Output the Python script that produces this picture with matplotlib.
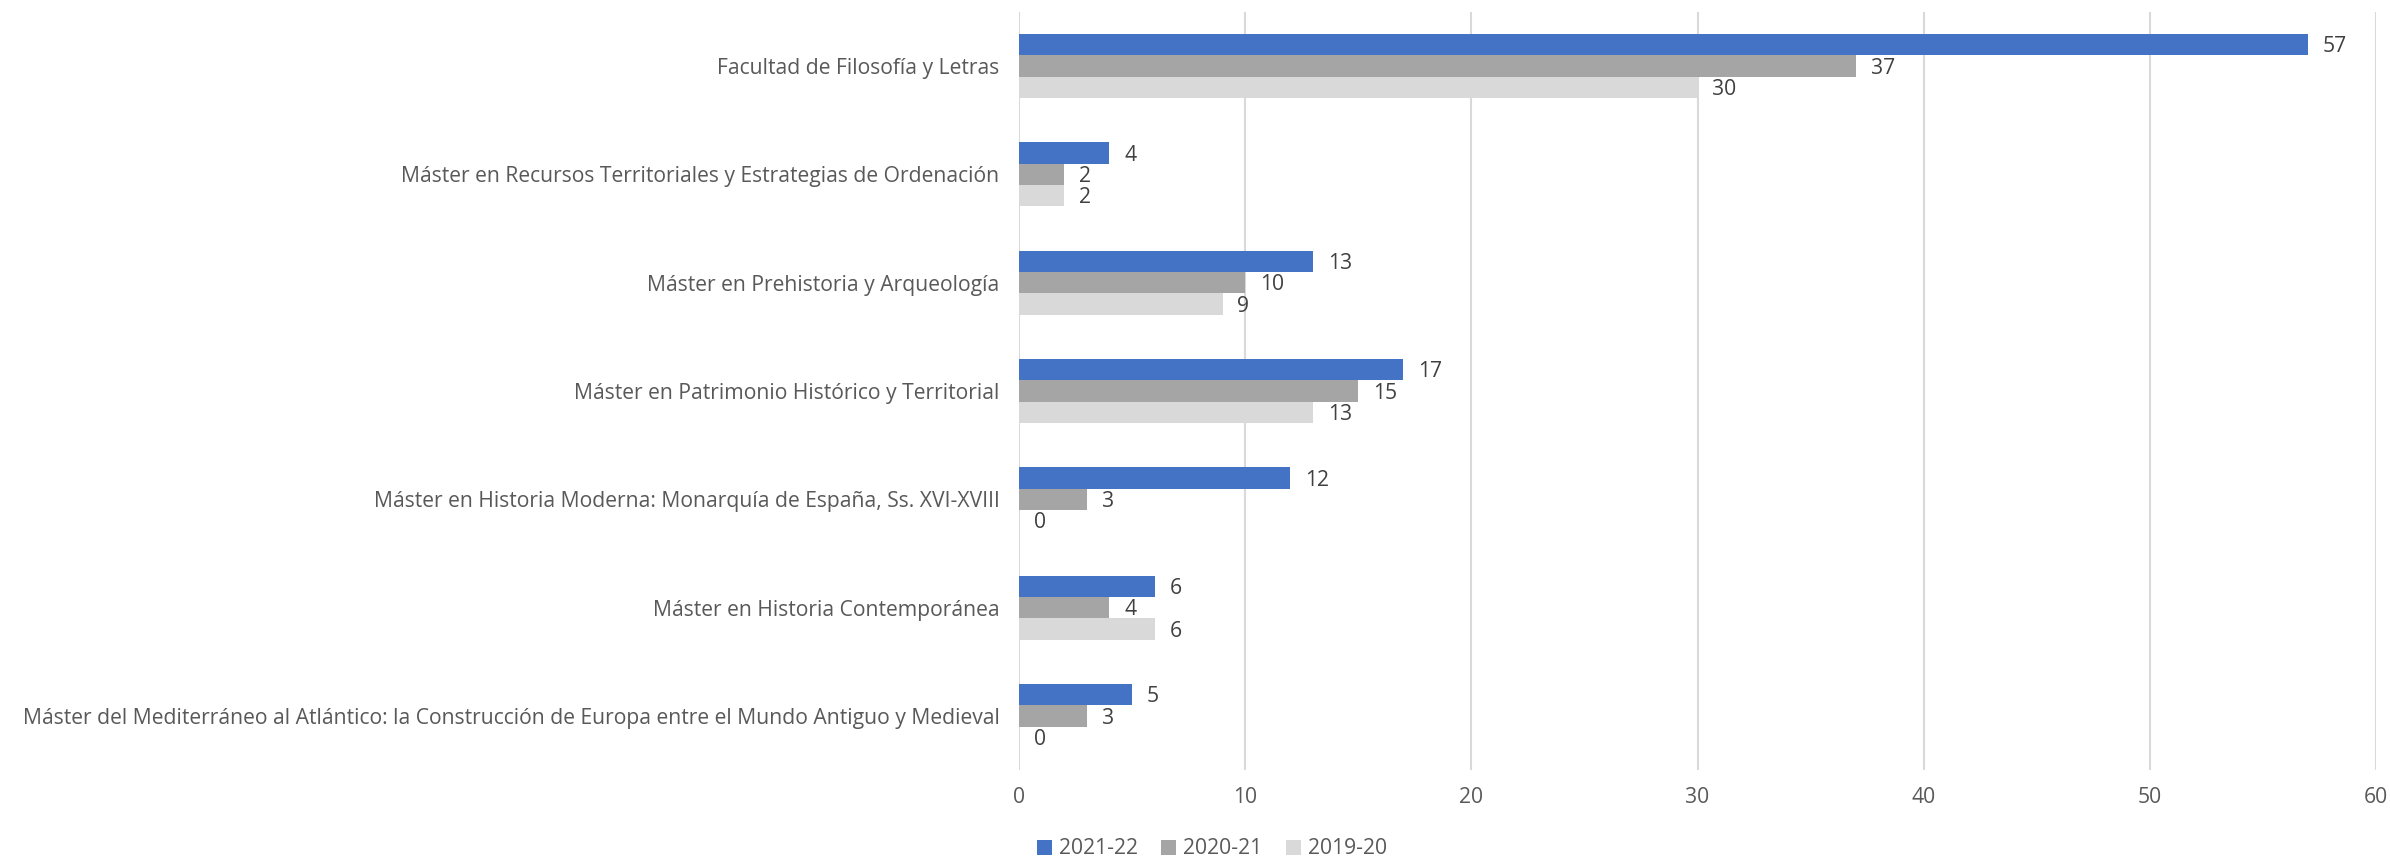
import matplotlib
matplotlib.use("Agg")
import matplotlib.pyplot as plt
import numpy as np

categories = [
    "Facultad de Filosofía y Letras",
    "Máster en Recursos Territoriales y Estrategias de Ordenación",
    "Máster en Prehistoria y Arqueología",
    "Máster en Patrimonio Histórico y Territorial",
    "Máster en Historia Moderna: Monarquía de España, Ss. XVI-XVIII",
    "Máster en Historia Contemporánea",
    "Máster del Mediterráneo al Atlántico: la Construcción de Europa entre el Mundo Antiguo y Medieval",
]
series_names = ["2021-22", "2020-21", "2019-20"]
v_2021_22 = [57, 4, 13, 17, 12, 6, 5]
v_2020_21 = [37, 2, 10, 15, 3, 4, 3]
v_2019_20 = [30, 2, 9, 13, 0, 6, 0]
x_ticks = [0, 10, 20, 30, 40, 50, 60]

colors = ["#4472C4", "#A5A5A5", "#D9D9D9"]
text_color = "#595959"
plt.rcParams['font.family'] = ['Open Sans', 'DejaVu Sans']
fs = 15.2

W, H = 2390, 858
fig = plt.figure(figsize=(W / 100, H / 100), dpi=100)
ax = fig.add_axes([1019 / W, 1 - 770 / H, (2376 - 1019) / W, (770 - 12) / H])

y = np.arange(len(categories))
bh = 0.197
all_vals = [v_2021_22, v_2020_21, v_2019_20]
for i, (vals, name, c) in enumerate(zip(all_vals, series_names, colors)):
    pos = y + (i - 1) * bh
    ax.barh(pos, vals, height=bh, color=c, label=name, zorder=2)
    for p, v in zip(pos, vals):
        ax.text(v + 0.65, p + 0.02, str(v), va='center', ha='left', fontsize=fs,
                color="#404040")

ax.set_ylim(len(categories) - 0.5, -0.5)
ax.set_xlim(0, 60)
ax.set_xticks(x_ticks)
ax.set_xticklabels([str(t) for t in x_ticks], fontsize=fs, color=text_color)
ax.set_yticks(y)
ax.set_yticklabels(categories, fontsize=fs, color=text_color)
ax.tick_params(axis='both', length=0)
ax.tick_params(axis='x', pad=12)
ax.tick_params(axis='y', pad=14)
for s in ax.spines.values():
    s.set_visible(False)
ax.grid(axis='x', color="#D9D9D9", linewidth=1.5, zorder=0)
ax.set_axisbelow(True)

leg = fig.legend(loc='center', bbox_to_anchor=(1212 / W, 1 - 849 / H), ncol=3,
                 frameon=False, fontsize=fs, handlelength=0.7, handleheight=0.7,
                 columnspacing=1.1, handletextpad=0.35)
for t in leg.get_texts():
    t.set_color(text_color)

fig.savefig("out.png", dpi=100)
